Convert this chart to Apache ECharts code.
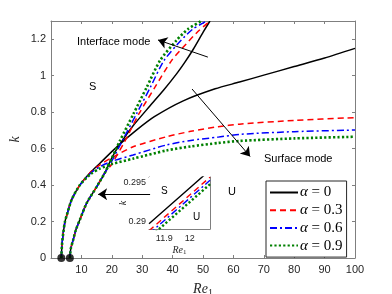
<!DOCTYPE html>
<html><head><meta charset="utf-8">
<script src="https://cdn.jsdelivr.net/npm/echarts@6/dist/echarts.min.js"></script>
<style>html,body{margin:0;padding:0;background:#fff}#c{width:392px;height:294px}</style>
</head><body><div id="c"></div>
<script>
// ---- Data (Re1, k) ----
const alphaNames = ['α = 0', 'α = 0.3', 'α = 0.6', 'α = 0.9'];
const seriesColors = ['#000000', '#ff0000', '#0000ff', '#008000'];

// common low-k part of the surface-mode branch (starts at Re1 ≈ 3.4)
const surfBase = [[3.4,0],[3.6,0.07],[4.05,0.14],[4.6,0.2],[5.2,0.235],[6.8,0.32],[9.5,0.40]];
const surf0 = [[13,0.47],[16.1,0.52],[22,0.615],[28,0.70],[34,0.775],[43.5,0.862],[54,0.928],[62,0.965],[70,1.003],[80,1.05],[90,1.097],[100,1.15]];
const surf3 = [[13,0.47],[16,0.51],[20,0.55],[27,0.61],[38,0.665],[46,0.695],[55,0.72],[62,0.734],[80,0.755],[100,0.77]];
const surf6 = [[13,0.465],[16,0.50],[20,0.53],[27,0.565],[38,0.62],[46,0.645],[55,0.663],[62,0.678],[80,0.693],[100,0.702]];
const surf9 = [[13,0.46],[16,0.49],[20,0.515],[27,0.545],[38,0.59],[46,0.612],[55,0.631],[62,0.642],[80,0.656],[100,0.665]];

// common low-k part of the interface-mode branch (starts at Re1 ≈ 6.2)
const intfBase = [[6.2,0],[6.5,0.05],[7.3,0.1],[8.2,0.155],[9.5,0.21],[11.7,0.3],[15,0.39],[17.8,0.47]];
const intf0 = [[20,0.55],[22.7,0.625],[27,0.725],[32.6,0.835],[37,0.92],[41.3,1.01],[44,1.073],[46.8,1.145],[50.1,1.24],[52.3,1.3]];
const intf3 = [[19.8,0.51],[24.4,0.644],[28.9,0.79],[34.2,0.937],[39.7,1.084],[44.5,1.175],[48.5,1.245],[52.3,1.3]];
const intf6 = [[19.3,0.51],[23.5,0.644],[28.1,0.79],[32.7,0.937],[37.2,1.084],[42.8,1.194],[46.6,1.255],[51.2,1.3]];
const intf9 = [[19,0.51],[22.7,0.644],[27.1,0.79],[31.5,0.937],[35.9,1.084],[41.3,1.194],[45,1.255],[49.5,1.3]];

// inset (zoom near Re1 = 12)
const inset0 = [[11.84,0.28974],[12,0.2943],[12.08,0.29658]];
const inset3 = [[11.84,0.28884],[12,0.2934],[12.08,0.29568]];
const inset6 = [[11.84,0.28844],[12,0.2930],[12.08,0.29528]];
const inset9 = [[11.84,0.28794],[12,0.2925],[12.08,0.29478]];

const criticalPoints = [[3.4,0],[6.2,0]];

// annotation arrows (data coords)
const arrowInterface = [[51.6,1.102],[35.2,1.196]];
const arrowSurface = [[46.4,0.927],[65.5,0.557]];
const arrowInset = [[32.6,0.349],[15.5,0.349]];

const xTicks = [0,100,10];
const yTicks = [0,1.3,0.2];
const insetXTicks = [11.9, 12];
const insetYTicks = [0.29, 0.295];

// ---- chart ----
const surfs = [surf0, surf3, surf6, surf9].map(s => surfBase.concat(s));
const intfs = [intf0, intf3, intf6, intf9].map(s => intfBase.concat(s));
const insets = [inset0, inset3, inset6, inset9];
const dashes = ['solid', [6,4], [7,3,2,3], [2.2,2.2]];
const widths = [1.5, 1.5, 1.5, 2.6];

const axisColor = '#7f7f7f';
const labelColor = '#262626';
const sans = 'Liberation Sans, Arial, sans-serif';
const serif = 'Liberation Serif, Times New Roman, serif';

const series = [];
for (let i = 0; i < 4; i++) {
  const ls = {color: seriesColors[i], width: widths[i], type: dashes[i], cap: 'butt'};
  const common = {type:'line', name: alphaNames[i], symbol:'none', smooth:0.25, lineStyle: ls, itemStyle:{color: seriesColors[i]}, z: 2 + i, clip: true};
  series.push(Object.assign({}, common, {data: surfs[i], xAxisIndex:0, yAxisIndex:0}));
  series.push(Object.assign({}, common, {data: intfs[i], xAxisIndex:0, yAxisIndex:0}));
  series.push(Object.assign({}, common, {data: insets[i], smooth:false, z: 12 + i, xAxisIndex:2, yAxisIndex:2, lineStyle: Object.assign({}, ls, {width: i===3?2.4:1.4})}));
}
series.push({type:'scatter', data: criticalPoints, symbolSize: 8, itemStyle:{color:'#000'}, xAxisIndex:0, yAxisIndex:0, z: 10, clip:false});
series.push({type:'lines', coordinateSystem:'cartesian2d', xAxisIndex:0, yAxisIndex:0, z: 9,
  symbol:['none','arrow'], symbolSize: 9,
  lineStyle:{color:'#000', width:1, opacity:1},
  data:[{coords: arrowInterface},{coords: arrowSurface},{coords: arrowInset}]});

function mainAxisX(pos, showLabels) {
  return {type:'value', gridIndex:0, position: pos, min:xTicks[0], max:xTicks[1], interval:xTicks[2],
    axisLine:{show:true, onZero:false, lineStyle:{color:axisColor, width:1}},
    axisTick:{show:true, inside:true, length:3, lineStyle:{color:axisColor}},
    axisLabel:{show:showLabels, showMinLabel:false, color:labelColor, fontFamily:sans, fontSize:11, margin:6},
    splitLine:{show:false}};
}
function mainAxisY(pos, showLabels) {
  return {type:'value', gridIndex:0, position: pos, min:yTicks[0], max:yTicks[1], interval:yTicks[2],
    axisLine:{show:true, onZero:false, lineStyle:{color:axisColor, width:1}},
    axisTick:{show:true, inside:true, length:3, lineStyle:{color:axisColor}},
    axisLabel:{show:showLabels, showMaxLabel:false, color:labelColor, fontFamily:sans, fontSize:11, margin:5},
    splitLine:{show:false}};
}
function insetX(pos, showLabels) {
  return {type:'value', gridIndex:1, position:pos, min:11.84, max:12.08,
    axisLine:{show:true, onZero:false, lineStyle:{color:axisColor, width:1}},
    axisTick:{show:true, inside:true, length:2, customValues: insetXTicks, lineStyle:{color:axisColor}},
    axisLabel:{show:showLabels, customValues: insetXTicks, color:labelColor, fontFamily:sans, fontSize:9, margin:5},
    splitLine:{show:false}};
}
function insetY(pos, showLabels) {
  return {type:'value', gridIndex:1, position:pos, min:0.28907, max:0.2957,
    axisLine:{show:true, onZero:false, lineStyle:{color:axisColor, width:1}},
    axisTick:{show:true, inside:true, length:2, customValues: insetYTicks, lineStyle:{color:axisColor}},
    axisLabel:{show:showLabels, customValues: insetYTicks, color:labelColor, fontFamily:sans, fontSize:9, margin:3},
    splitLine:{show:false}};
}

const xa0 = mainAxisX('bottom',true);
xa0.name = '{i|Re}{s|1}'; xa0.nameLocation='middle'; xa0.nameGap=22;
xa0.nameTextStyle = {rich:{i:{fontFamily:serif, fontStyle:'italic', fontSize:14, color:labelColor}, s:{fontFamily:serif, fontSize:10, color:labelColor, padding:[8,0,0,0]}}};
const ya0 = mainAxisY('left', true);
ya0.name = 'k'; ya0.nameLocation='middle'; ya0.nameGap=29; ya0.nameRotate=90; ya0.nameMoveOverlap=false;
ya0.nameTextStyle = {fontFamily:serif, fontStyle:'italic', fontSize:14, color:labelColor};

const xi = insetX('bottom', true);
xi.name = '{i|Re}{s|1}'; xi.nameLocation='middle'; xi.nameGap=15;
xi.nameTextStyle = {rich:{i:{fontFamily:serif, fontStyle:'italic', fontSize:10, color:labelColor}, s:{fontFamily:serif, fontSize:7, color:labelColor, padding:[5,0,0,0]}}};
const yi = insetY('left', true);
yi.name = 'k'; yi.nameLocation='middle'; yi.nameGap=21; yi.nameRotate=90; yi.nameMoveOverlap=false;
yi.nameTextStyle = {fontFamily:serif, fontStyle:'italic', fontSize:10, color:labelColor};

const option = {
  animation:false,
  backgroundColor:'#fff',
  grid:[
    {left:51, right:37, top:21, bottom:36, containLabel:false, outerBoundsMode:'none'},
    {left:149, top:177, width:61, height:52, containLabel:false, outerBoundsMode:'none', show:true, backgroundColor:'#fff', borderWidth:0, z:5}
  ],
  xAxis:[xa0, mainAxisX('top',false), xi, insetX('top', false)],
  yAxis:[ya0, mainAxisY('right', false), yi, insetY('right', false)],
  legend:{
    data: alphaNames, orient:'vertical', left:266, top:181,
    padding:[4,4,4,3], itemGap:2.7, itemWidth:28, itemHeight:14,
    backgroundColor:'#fff', borderColor:'#262626', borderWidth:1,
    itemStyle:{opacity:0},
    formatter: n => '{a|α}{b| = ' + n.split('= ')[1] + '}',
    textStyle:{padding:[0,0,0,-3], rich:{a:{fontFamily:serif, fontStyle:'italic', fontSize:15, color:'#000'}, b:{fontFamily:serif, fontSize:15, color:'#000'}}},
    z: 20
  },
  graphic:[
    {type:'text', left:77, top:36, style:{text:'Interface mode', font:'11px ' + sans, fill:'#000'}},
    {type:'text', left:264, top:153, style:{text:'Surface mode', font:'11px ' + sans, fill:'#000'}},
    {type:'text', left:89, top:81, style:{text:'S', font:'11px ' + sans, fill:'#000'}},
    {type:'text', left:228, top:186, style:{text:'U', font:'11px ' + sans, fill:'#000'}},
    {type:'text', left:161, top:186, z:30, style:{text:'S', font:'10px ' + sans, fill:'#000'}},
    {type:'text', left:193, top:212, z:30, style:{text:'U', font:'10px ' + sans, fill:'#000'}}
  ],
  series: series
};
const chart = echarts.init(document.getElementById('c'), null, {renderer:'canvas'});
chart.setOption(option);
</script>
</body></html>
